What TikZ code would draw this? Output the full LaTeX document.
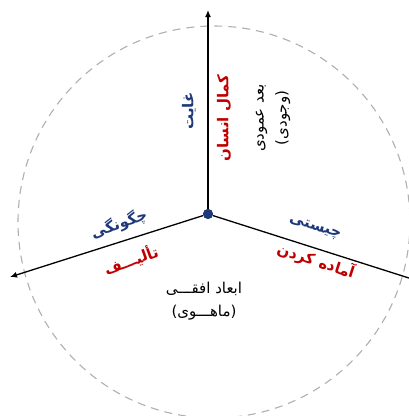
\documentclass[tikz,border=0pt]{standalone}
\usepackage{fontspec}
\newfontfamily\fa[Script=Arabic]{DejaVu Sans}
\TeXXeTstate=1
\usetikzlibrary{arrows.meta}
\definecolor{navy}{RGB}{31,56,122}
\definecolor{dred}{RGB}{192,0,0}
\definecolor{dashgray}{RGB}{175,175,175}
\begin{document}
\begin{tikzpicture}[x=1pt,y=-1pt,
  lbl/.style={font=\fa\bfseries\fontsize{15}{18}\selectfont, inner sep=0pt},
  bl/.style={lbl,text=navy},
  rd/.style={lbl,text=dred},
  pl/.style={font=\fa\fontsize{15}{23}\selectfont, align=center, inner sep=0pt},
  axisline/.style={line width=1.3pt},
  axisarrow/.style={axisline, -{Latex[length=7pt,width=6pt]}}]
\useasboundingbox (0,0) rectangle (409,416);
\draw[dashgray, dash pattern=on 8pt off 6pt, line width=1.1pt] (214,222) circle[radius=196];
\node[circle, fill=navy, inner sep=0pt, minimum size=10pt] (O) at (208,214) {};
\coordinate (top) at (208,10);
\coordinate (left) at (10,277);
\coordinate (right) at (412,279);
\draw[axisarrow] (O) -- (top);
\draw[axisarrow] (O) -- (left);
\draw[axisline] (O) -- (right);
\node[circle, fill=navy, inner sep=0pt, minimum size=10pt] at (O) {};
\node[bl, rotate=90] (ghayat) at (189,111) {\beginR غایت\endR};
\node[rd, rotate=90] (kamal) at (224,118) {\beginR کمال انسان\endR};
\node[pl, rotate=90] (omudi) at (273,118) {\beginR بعد عمودی\endR\\\beginR (وجودی)\endR};
\node[bl, rotate=20] (chegun) at (119,224) {\beginR چگونگی\endR};
\node[rd, rotate=20] (talif) at (131,260) {\beginR تألیـــف\endR};
\node[bl, rotate=-18] (chisti) at (315,228) {\beginR چیستی\endR};
\node[rd, rotate=-18] (amade) at (316,261) {\beginR آماده کردن\endR};
\node[pl] (ofoghi) at (204,301) {\beginR ابعاد افقـــی\endR\\\beginR (ماهـــوی)\endR};
\end{tikzpicture}
\end{document}
